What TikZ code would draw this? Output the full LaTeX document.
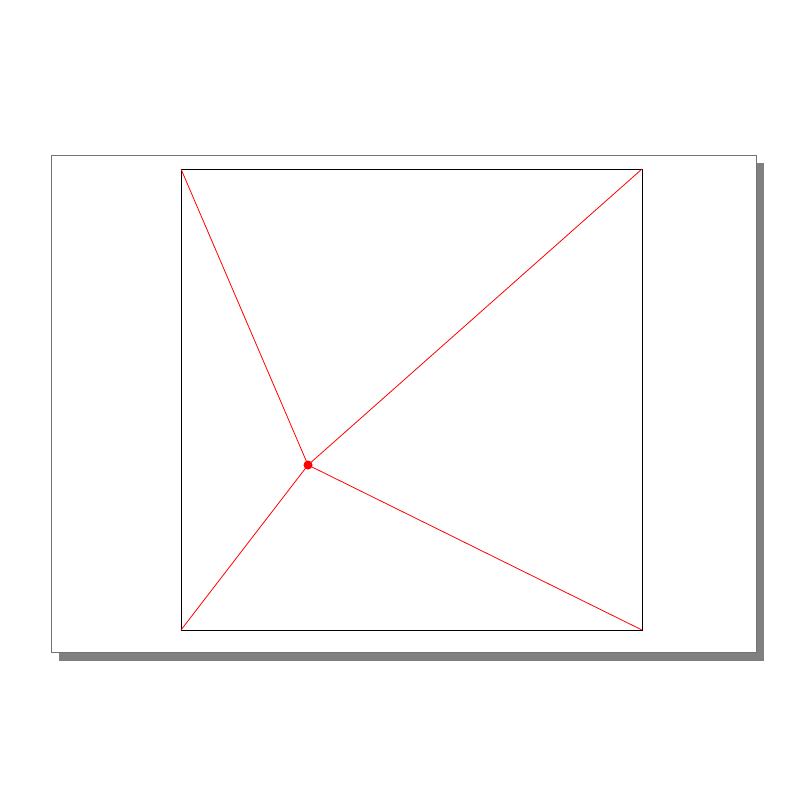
\documentclass[tikz,border=0pt]{standalone}
\begin{document}
\begin{tikzpicture}[x=1pt,y=-1pt,
  frame/.style={draw=gray!90!black,line width=0.8pt,fill=white},
  shadowbox/.style={fill=gray,draw=none},
  square/.style={draw=black,line width=0.9pt},
  redline/.style={draw=red,line width=0.8pt},
  dot/.style={circle,fill=red,inner sep=0pt,minimum size=9pt}]
\useasboundingbox[fill=white] (0,0) rectangle (800,800);
\fill[shadowbox] (59,163) rectangle (764,661);
\draw[frame] (51,155) rectangle (756,652);
\draw[square] (181,169) rectangle (642,630);
\coordinate (tl) at (181,169);
\coordinate (tr) at (642,169);
\coordinate (bl) at (181,630);
\coordinate (br) at (642,630);
\node[dot] (p) at (308,465) {};
\draw[redline] (p.center) -- (tl);
\draw[redline] (p.center) -- (tr);
\draw[redline] (p.center) -- (bl);
\draw[redline] (p.center) -- (br);
\end{tikzpicture}
\end{document}
